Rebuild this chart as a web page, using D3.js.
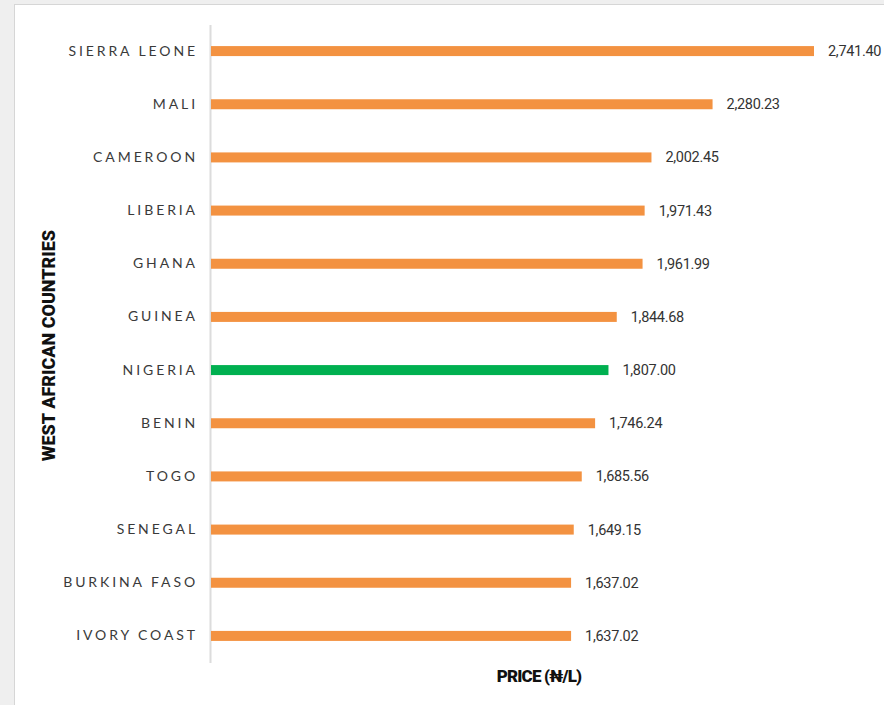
<!DOCTYPE html>
<html>
<head>
<meta charset="utf-8">
<script src="https://cdn.jsdelivr.net/npm/d3@7"></script>
<style>
  body { margin: 0; background: #efefef; }
  svg { display: block; }
</style>
</head>
<body>
<div id="chart"></div>
<script>
// fuel prices in west africa, naira per litre
var countries = ["SIERRA LEONE", "MALI", "CAMEROON", "LIBERIA", "GHANA", "GUINEA",
  "NIGERIA", "BENIN", "TOGO", "SENEGAL", "BURKINA FASO", "IVORY COAST"];
var prices = [2741.40, 2280.23, 2002.45, 1971.43, 1961.99, 1844.68,
  1807.00, 1746.24, 1685.56, 1649.15, 1637.02, 1637.02];
var highlight = "NIGERIA";

var width = 884, height = 705;
var margin = ({top: 24.5, right: 70, bottom: 42.5, left: 211});

var data = countries.map((c, i) => ({country: c, price: prices[i]}));

var svg = d3.select("#chart")
  .append("svg")
  .attr("width", width)
  .attr("height", height);

// white card
svg.append("rect")
  .attr("x", 14.5).attr("y", 4.5)
  .attr("width", width).attr("height", height)
  .attr("fill", "#fff")
  .attr("stroke", "#d6d6d6");

var x = d3.scaleLinear()
  .domain([0, 2741.4])
  .range([margin.left, 814]);

var y = d3.scaleBand()
  .domain(countries)
  .range([margin.top, height - margin.bottom]);

var barH = 10;

// y axis: labels only, with a light line
var yAxis = g => g
  .attr("transform", `translate(${margin.left - 1},0)`)
  .call(d3.axisLeft(y).tickSize(0).tickPadding(12))
  .call(g => g.select(".domain")
    .attr("stroke", "#dcdcdc")
    .attr("stroke-width", 2))
  .call(g => g.selectAll("text")
    .attr("fill", "#3a3a3a")
    .style("font", "14px Lato, sans-serif")
    .style("letter-spacing", "2.9px"));

svg.append("g").call(yAxis);

svg.append("g")
  .selectAll("rect")
  .data(data)
  .join("rect")
    .attr("x", x(0))
    .attr("y", d => y(d.country) + y.bandwidth() / 2 - barH / 2)
    .attr("width", d => x(d.price) - x(0))
    .attr("height", barH)
    .attr("fill", d => d.country === highlight ? "#00b050" : "#f39241");

var fmt = d3.format(",.2f");
svg.append("g")
  .selectAll("text")
  .data(data)
  .join("text")
    .attr("x", d => x(d.price) + 14)
    .attr("y", d => y(d.country) + y.bandwidth() / 2)
    .attr("dy", "0.35em")
    .attr("fill", "#333")
    .style("font", "14.5px Roboto, sans-serif")
    .style("letter-spacing", "-0.3px")
    .text(d => fmt(d.price));

// axis titles
svg.append("text")
  .attr("transform", `translate(55,${(margin.top + height - margin.bottom) / 2 + 2}) rotate(-90)`)
  .attr("text-anchor", "middle")
  .attr("fill", "#111")
  .style("font", "900 18px Roboto, sans-serif")
  .text("WEST AFRICAN COUNTRIES");

svg.append("text")
  .attr("x", 539)
  .attr("y", 682)
  .attr("text-anchor", "middle")
  .attr("fill", "#111")
  .style("font", "900 17px Roboto, sans-serif")
  .style("letter-spacing", "-0.8px")
  .text("PRICE (₦/L)");
</script>
</body>
</html>
